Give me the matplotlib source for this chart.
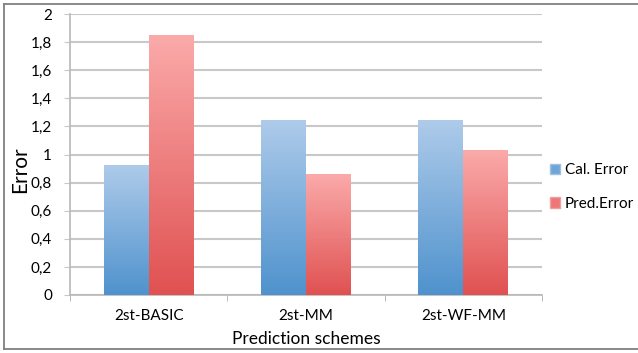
import numpy as np
import matplotlib.pyplot as plt
from matplotlib.colors import LinearSegmentedColormap
from matplotlib.lines import Line2D
from matplotlib.patches import Patch

schemes = ["2st-BASIC", "2st-MM", "2st-WF-MM"]
cal_error = [0.92, 1.24, 1.24]
pred_error = [1.85, 0.86, 1.03]
series_names = ["Cal. Error", "Pred.Error"]
y_ticks = [0, 0.2, 0.4, 0.6, 0.8, 1, 1.2, 1.4, 1.6, 1.8, 2]
y_tick_labels = ["0", "0,2", "0,4", "0,6", "0,8", "1", "1,2", "1,4", "1,6", "1,8", "2"]

plt.rcParams['font.family'] = ['Lato', 'DejaVu Sans']

blue_cmap = LinearSegmentedColormap.from_list("blue", ["#4f92cd", "#aecbea"])
red_cmap = LinearSegmentedColormap.from_list("red", ["#e05151", "#fbaaaa"])

fig = plt.figure(figsize=(6.38, 3.53), dpi=100)
ax = fig.add_axes([70 / 638, 58 / 353, 472 / 638, 281 / 353])

grad = np.linspace(0, 1, 256).reshape(-1, 1)
width = 0.286
x = np.arange(len(schemes))


def gradient_bars(xs, vals, cmap):
    for xc, v in zip(xs, vals):
        ax.imshow(grad, cmap=cmap, origin="lower", aspect="auto",
                  extent=(xc - width / 2, xc + width / 2, 0, v), zorder=3)


gradient_bars(x - width / 2, cal_error, blue_cmap)
gradient_bars(x + width / 2, pred_error, red_cmap)

ax.set_xlim(-0.5, len(schemes) - 0.5)
ax.set_ylim(0, 2)
ax.set_yticks(y_ticks)
ax.set_yticklabels(y_tick_labels, fontsize=11)
ax.yaxis.grid(True, color="#c8c8c8", lw=1.5)
ax.set_axisbelow(True)

ax.set_xticks(x)
ax.set_xticklabels(schemes, fontsize=11)
ax.tick_params(axis="x", length=0, pad=10)
ax.set_xticks(np.arange(len(schemes) + 1) - 0.5, minor=True)
ax.tick_params(axis="x", which="minor", length=4, color="#b0b0b0")
ax.tick_params(axis="y", length=4, color="#c8c8c8", pad=9)

for s in ["top", "right"]:
    ax.spines[s].set_visible(False)
ax.spines["left"].set_color("#b8b8b8")
ax.spines["bottom"].set_color("#b8b8b8")
ax.spines["left"].set_linewidth(1.2)
ax.spines["bottom"].set_linewidth(1.2)

ax.set_xlabel("Prediction schemes", fontsize=12.5, labelpad=6)
fig.text(20 / 638, 1 - 170 / 353, "Error", rotation=90, fontsize=15,
         ha="center", va="center")

handles = [Patch(facecolor="#6fa6d9", edgecolor="#a0c0e0"),
           Patch(facecolor="#ee7676", edgecolor="#f0a0a0")]
fig.legend(handles, series_names, loc="center left", bbox_to_anchor=(550 / 638, 1 - 187 / 353),
           frameon=False, fontsize=11, handlelength=0.65, handleheight=0.65,
           handletextpad=0.3, labelspacing=1.3, borderpad=0, borderaxespad=0)

# outer frame on left, top and bottom
for xs, ys in [([4 / 638, 4 / 638], [4 / 353, 349 / 353]),
               ([4 / 638, 1], [349 / 353, 349 / 353]),
               ([4 / 638, 1], [4 / 353, 4 / 353])]:
    fig.add_artist(Line2D(xs, [1 - y for y in ys], color="#808080", lw=1.3))

fig.savefig("out.png", dpi=100)
